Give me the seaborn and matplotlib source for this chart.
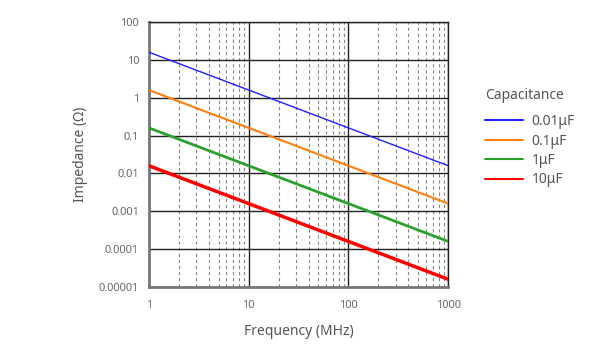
import matplotlib
matplotlib.use("Agg")
import matplotlib.pyplot as plt
import matplotlib.ticker as mticker
import seaborn as sns
import pandas as pd

# Data
freq_mhz = [1, 10, 100, 1000]
z_001uF = [16, 1.6, 0.16, 0.016]
z_01uF = [1.6, 0.16, 0.016, 0.0016]
z_1uF = [0.16, 0.016, 0.0016, 0.00016]
z_10uF = [0.016, 0.0016, 0.00016, 0.000016]
cap_labels = ["0.01μF", "0.1μF", "1μF", "10μF"]
x_ticks = [1, 10, 100, 1000]
x_tick_labels = ["1", "10", "100", "1000"]
y_ticks = [0.00001, 0.0001, 0.001, 0.01, 0.1, 1, 10, 100]
y_tick_labels = ["0.00001", "0.0001", "0.001", "0.01", "0.1", "1", "10", "100"]

colors = ["#1f1fff", "#ff7f0e", "#2ca02c", "#ff0000"]
widths = [1.0, 1.5, 2.0, 2.5]

rows = []
for lab, vals in zip(cap_labels, [z_001uF, z_01uF, z_1uF, z_10uF]):
    for f, z in zip(freq_mhz, vals):
        rows.append({"Frequency": f, "Impedance": z, "Capacitance": lab})
df = pd.DataFrame(rows)

sns.set_style("white")
plt.rcParams["font.family"] = ["Noto Sans", "DejaVu Sans"]

fig = plt.figure(figsize=(6, 3.5), dpi=100)
ax = fig.add_axes([0.248, 0.18, 0.499, 0.757])

sns.lineplot(data=df, x="Frequency", y="Impedance", hue="Capacitance",
             palette=dict(zip(cap_labels, colors)), ax=ax, zorder=3)
for line, lw in zip(ax.get_lines(), widths):
    line.set_linewidth(lw)

ax.set_xscale("log")
ax.set_yscale("log")
ax.set_xlim(1, 1000)
ax.set_ylim(0.00001, 100)

ax.xaxis.set_major_locator(mticker.FixedLocator(x_ticks))
ax.xaxis.set_major_formatter(mticker.FixedFormatter(x_tick_labels))
ax.xaxis.set_minor_locator(mticker.LogLocator(base=10, subs=range(2, 10)))
ax.xaxis.set_minor_formatter(mticker.NullFormatter())
ax.yaxis.set_major_locator(mticker.FixedLocator(y_ticks))
ax.yaxis.set_major_formatter(mticker.FixedFormatter(y_tick_labels))
ax.yaxis.set_minor_locator(mticker.NullLocator())

ax.grid(which="major", color="#222222", linewidth=1.0, linestyle="-")
ax.grid(which="minor", axis="x", color="#888888", linewidth=0.8, linestyle=(0, (3, 2.5)))
ax.tick_params(axis="y", which="both", length=0, labelsize=8, labelcolor="#666666", pad=7)
ax.tick_params(axis="x", which="both", length=0, labelsize=8, labelcolor="#666666", pad=9)

for side in ["top", "right"]:
    ax.spines[side].set_color("#222222")
    ax.spines[side].set_linewidth(1.0)
for side in ["left", "bottom"]:
    ax.spines[side].set_color("#777777")
    ax.spines[side].set_linewidth(2.0)

ax.set_xlabel("Frequency (MHz)", fontsize=10, color="#555555", labelpad=10)
ax.set_ylabel("Impedance (Ω)", fontsize=10, color="#555555", labelpad=8)

handles, labels = ax.get_legend_handles_labels()
leg = ax.legend(handles, labels, title="Capacitance", frameon=False,
                loc="upper left", bbox_to_anchor=(485 / 600, 1 - 88 / 350),
                bbox_transform=fig.transFigure, borderpad=0, borderaxespad=0,
                fontsize=10, title_fontsize=10, handlelength=2.7,
                handletextpad=0.65, labelspacing=0.32, alignment="left")
leg._legend_box.sep = 8.0
for t in leg.get_texts():
    t.set_color("#555555")
leg.get_title().set_color("#555555")

fig.savefig("out.png", dpi=100)
